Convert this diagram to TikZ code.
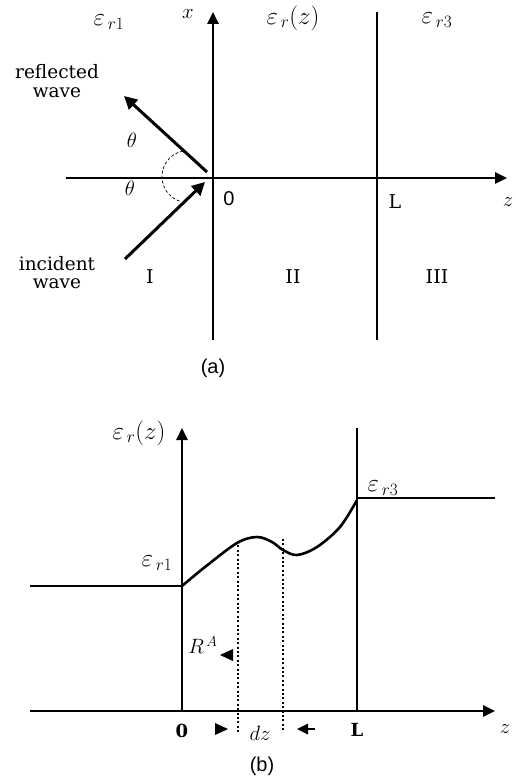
\documentclass[tikz,border=0pt]{standalone}
\usepackage{fontspec}
\setmainfont{DejaVu Serif}
\newfontfamily\sansf{Liberation Sans}
\usetikzlibrary{arrows.meta}
\begin{document}
\begin{tikzpicture}[x=1pt,y=-1pt,
  axis/.style={line width=2.6pt},
  axarrow/.style={line width=2.6pt,-{Triangle[length=12pt,width=11pt]}},
  wavearrow/.style={line width=3pt,-{Triangle[length=13pt,width=13pt]}},
  lbl/.style={inner sep=0pt,font=\fontsize{19}{19}\selectfont},
  wtxt/.style={inner sep=0pt,anchor=base,font=\fontsize{18.5}{19}\selectfont},
  mth/.style={inner sep=0pt,font=\fontsize{20}{22}\selectfont},
  eps/.style={inner sep=0pt,font=\fontsize{24}{26}\selectfont},
  captxt/.style={inner sep=0pt,font=\sansf\fontsize{20}{22}\selectfont},
  dots/.style={line width=2pt,dash pattern=on 2pt off 2.4pt},
  tri/.style={fill=black,draw=none}]
\useasboundingbox (0,0) rectangle (516,781);
% ---------------- panel (a)
\coordinate (xbot) at (213,340);
\coordinate (xtop) at (213,12);
\coordinate (zleft) at (66,178);
\coordinate (zright) at (507,178);
\coordinate (Ltop) at (377,12);
\coordinate (Lbot) at (377,340);
\coordinate (refS) at (207,172);
\coordinate (refE) at (124,96);
\coordinate (incS) at (125,259);
\coordinate (incE) at (205,182);
\draw[axarrow] (xbot) -- (xtop);
\draw[axarrow] (zleft) -- (zright);
\draw[axis] (Ltop) -- (Lbot);
\draw[wavearrow] (refS) -- (refE);
\draw[wavearrow] (incS) -- (incE);
\draw[line width=0.7pt,dash pattern=on 3pt off 2pt] (183,151) arc[start angle=259,end angle=108,radius=26];
\node[eps] (er1) at (109,22) {$\varepsilon_{\,r1}$};
\node[mth] (xl) at (188,14) {$x$};
\node[eps] (erz) at (293,18) {$\varepsilon_{\,r}(z)$};
\node[eps] (er3) at (437,20) {$\varepsilon_{\,r3}$};
\node[wtxt] (refl1) at (57,79) {reflected};
\node[wtxt] (refl2) at (57,98) {wave};
\node[mth] (th1) at (132,140) {$\theta$};
\node[mth] (th2) at (130,188) {$\theta$};
\node[captxt] (zero) at (229,199) {0};
\node[lbl] (La) at (395,202) {L};
\node[mth] (za) at (508,202) {$z$};
\node[wtxt] (inc1) at (57,270) {incident};
\node[wtxt] (inc2) at (57,288) {wave};
\node[lbl] (r1) at (150,277) {I};
\node[lbl] (r2) at (293,277) {II};
\node[lbl] (r3) at (437,277) {III};
\node[captxt] (capa) at (213,368) {(a)};
% ---------------- panel (b)
\coordinate (ybot) at (182,711);
\coordinate (ytop) at (182,428);
\coordinate (bl) at (30,711);
\coordinate (br) at (495,711);
\coordinate (e1l) at (30,586);
\coordinate (e1r) at (182,586);
\coordinate (Lbt) at (357,428);
\coordinate (Lbb) at (357,711);
\coordinate (e3l) at (357,498);
\coordinate (e3r) at (495,498);
\draw[axarrow] (ybot) -- (ytop);
\draw[axarrow] (bl) -- (br);
\draw[axis] (e1l) -- (e1r);
\draw[axis] (Lbt) -- (Lbb);
\draw[axis] (e3l) -- (e3r);
\draw[line width=2.6pt,line join=round] plot[smooth,tension=0.55] coordinates {(182,586) (205,567) (237,543) (257,537) (272,542) (283,550) (297,555) (317,547) (340,527) (357,500)};
\coordinate (d1t) at (238,541);
\coordinate (d1b) at (238,732);
\coordinate (d2t) at (283,539);
\coordinate (d2b) at (283,730);
\draw[dots] (d1t) -- (d1b);
\draw[dots] (d2t) -- (d2b);
\node[eps] (erzb) at (139,433) {$\varepsilon_{\,r}(z)$};
\node[eps] (er1b) at (157,563) {$\varepsilon_{\,r1}$};
\node[eps] (er3b) at (383,488) {$\varepsilon_{\,r3}$};
\node[eps,font=\fontsize{22}{24}\selectfont] (RA) at (203,645) {$R^{\,A}$};
\fill[tri] (220,655) -- (233,649) -- (233,661) -- cycle;
\fill[tri] (228,729) -- (215,723) -- (215,735) -- cycle;
\fill[tri] (297,729) -- (308,723.5) -- (308,734.5) -- cycle;
\draw[line width=1.8pt] (307,729) -- (315,729);
\node[lbl,font=\bfseries\fontsize{18}{18}\selectfont] (zerob) at (182,731) {0};
\node[eps,font=\fontsize{22}{24}\selectfont] (dz) at (260,733) {$dz$};
\node[lbl,font=\bfseries\fontsize{18}{18}\selectfont] (Lb) at (357,730) {L};
\node[mth] (zb) at (505,729) {$z$};
\node[captxt] (capb) at (262,766) {(b)};
\end{tikzpicture}
\end{document}
